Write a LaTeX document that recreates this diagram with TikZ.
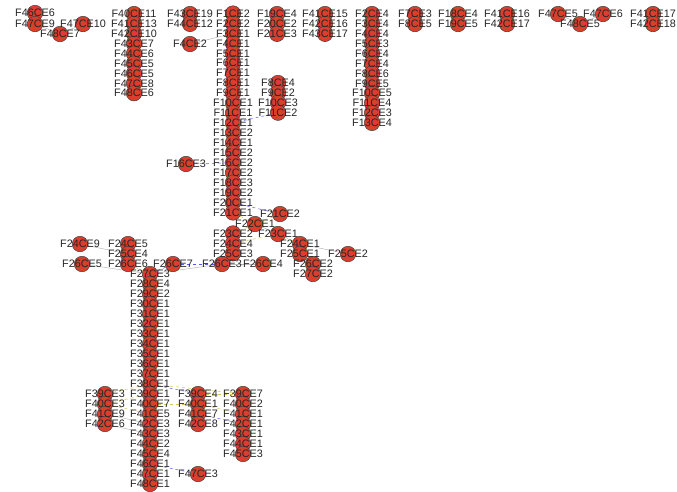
\documentclass[tikz,border=0pt]{standalone}
\usepackage{fontspec}
\setmainfont{Liberation Sans}
\usetikzlibrary{backgrounds}
\pgfdeclarelayer{front}
\pgfsetlayers{background,main,front}
\definecolor{nodered}{RGB}{220,62,46}
\definecolor{edgeyellow}{RGB}{214,200,70}
% one node: name, x, y
\newcommand{\fnode}[3]{%
  \node[dot] (#1) at (#2,#3) {};
  \begin{pgfonlayer}{front}\node[lab] at (#2,#3) {#1};\end{pgfonlayer}}
% one column: x, first y, row step, names
\newcommand{\fcolumn}[4]{%
  \foreach \nm [count=\i from 0] in {#4} {\fnode{\nm}{#1}{#2+\i*#3}}}
\begin{document}
\begin{tikzpicture}[x=1pt, y=-1pt,
  dot/.style={circle,draw=black!75,line width=0.5pt,fill=nodered,minimum size=15.5pt,inner sep=0pt},
  lab/.style={font=\fontsize{10.8}{11}\selectfont,text=black!85,inner sep=0pt},
  plain/.style={draw=gray!55,line width=0.5pt},
  blueedge/.style={draw=blue!65,dashed,line width=0.5pt},
  yellowedge/.style={draw=edgeyellow,dashed,line width=0.5pt}]
\begin{pgfonlayer}{background}
\fill[white] (0,0) rectangle (677,491);
\end{pgfonlayer}
\useasboundingbox (0,0) rectangle (677,491);
% top left
\fnode{F46CE6}{35}{13}
\fnode{F47CE9}{35}{24}
\fnode{F47CE10}{83}{24}
\fnode{F48CE7}{60}{34}
\fcolumn{134}{14}{9.9}{F40CE11,F41CE13,F42CE10,F43CE7,F44CE6,F45CE5,F46CE5,F47CE8,F48CE6}
\fcolumn{190}{14}{9.9}{F43CE19,F44CE12}
\fnode{F4CE2}{190}{44}
% main column
\fcolumn{233}{13.5}{9.95}{F1CE2,F2CE2,F3CE1,F4CE1,F5CE1,F6CE1,F7CE1,F8CE1,F9CE1,F10CE1,F11CE1,F12CE1,F13CE2,F14CE1,F15CE2,F16CE2,F17CE2,F18CE3,F19CE2,F20CE1,F21CE1}
\fcolumn{233}{233.4}{9.95}{F23CE2,F24CE4,F25CE3}
\fcolumn{277}{14}{9.9}{F19CE4,F20CE2,F21CE3}
\fcolumn{325}{14}{9.9}{F41CE15,F42CE16,F43CE17}
\fcolumn{372}{14}{9.9}{F2CE4,F3CE4,F4CE4,F5CE3,F6CE4,F7CE4,F8CE6,F9CE5,F10CE5,F11CE4,F12CE3,F13CE4}
\fcolumn{278}{83}{9.9}{F8CE4,F9CE2,F10CE3,F11CE2}
% top right
\fcolumn{415}{14}{10}{F7CE3,F8CE5}
\fcolumn{458}{14}{10}{F18CE4,F19CE5}
\fcolumn{507}{14}{10}{F41CE16,F42CE17}
\fnode{F47CE5}{558}{14}
\fnode{F48CE5}{580}{24}
\fnode{F47CE6}{603}{14}
\fcolumn{653}{14}{10}{F41CE17,F42CE18}
\fnode{F16CE3}{186}{164}
% middle
\fnode{F21CE2}{280}{214}
\fnode{F22CE1}{255}{224}
\fnode{F23CE1}{278}{234}
\fcolumn{300}{244}{10}{F24CE1,F25CE1}
\fcolumn{313}{264}{10}{F26CE2,F27CE2}
\fnode{F25CE2}{348}{254}
\fnode{F26CE4}{263}{264}
\fnode{F26CE3}{222}{264}
\fnode{F26CE7}{173}{264}
\fcolumn{128}{244}{10}{F24CE5,F25CE4,F26CE6}
\fnode{F24CE9}{80}{244}
\fnode{F26CE5}{82}{264}
% lower column
\fcolumn{150}{274}{10}{F27CE3,F28CE4,F29CE2,F30CE1,F31CE1,F32CE1,F33CE1,F34CE1,F35CE1,F36CE1,F37CE1,F38CE1,F39CE1,F40CE7,F41CE5,F42CE3,F43CE3,F44CE2,F45CE4,F46CE1,F47CE1,F48CE1}
\fcolumn{105}{394}{10}{F39CE3,F40CE3,F41CE9,F42CE6}
\fcolumn{198}{394}{10}{F39CE4,F40CE1,F41CE7,F42CE8}
\fcolumn{243}{394}{10}{F39CE7,F40CE2,F41CE1,F42CE1,F43CE1,F44CE1,F45CE3}
\fnode{F47CE3}{198}{474}
% connectors
\begin{pgfonlayer}{background}
\draw[plain] (F47CE9) -- (F48CE7);
\draw[plain] (F48CE7) -- (F47CE10);
\draw[plain] (F4CE2) -- (F3CE1);
\draw[plain] (F47CE5) -- (F48CE5);
\draw[plain] (F48CE5) -- (F47CE6);
\draw[plain] (F22CE1) -- (F23CE1);
\draw[plain] (F24CE1) -- (F25CE2);
\draw[plain] (F26CE3) -- (F26CE4);
\draw[plain] (F26CE3) -- (F27CE3);
\draw[plain] (F24CE9) -- (F25CE4);
\draw[plain] (F26CE5) -- (F27CE3);
\draw[plain] (F41CE9) -- (F42CE3);
\draw[plain] (F42CE6) -- (F43CE3);
\draw[blueedge] (F11CE2) -- (F12CE1);
\draw[blueedge] (F16CE3) -- (F16CE2);
\draw[blueedge] (F20CE1) -- (F21CE2);
\draw[blueedge] (F26CE7) -- (F26CE3);
\draw[blueedge] (F26CE7) -- (F27CE3);
\draw[blueedge] (F38CE1) -- (F39CE4);
\draw[blueedge] (F41CE7) -- (F42CE1);
\draw[blueedge] (F46CE1) -- (F47CE3);
\draw[yellowedge] (F21CE1) -- (F22CE1);
\draw[yellowedge] (F21CE2) -- (F22CE1);
\draw[yellowedge] (F22CE1) -- (F23CE2);
\draw[yellowedge] (F24CE4) -- (F23CE1);
\draw[yellowedge] (F23CE1) -- (F24CE1);
\draw[yellowedge] (F26CE6) -- (F27CE3);
\draw[yellowedge] (F38CE1) -- (F39CE7);
\draw[yellowedge] (F39CE3) -- (F38CE1);
\draw[yellowedge] (F40CE3) -- (F39CE1);
\draw[yellowedge] (F40CE3) -- (F41CE5);
\draw[yellowedge] (F40CE7) -- (F40CE1);
\draw[yellowedge] (F40CE1) -- (F41CE1);
\draw[yellowedge] (F39CE4) -- (F39CE7);
\end{pgfonlayer}
\end{tikzpicture}
\end{document}
